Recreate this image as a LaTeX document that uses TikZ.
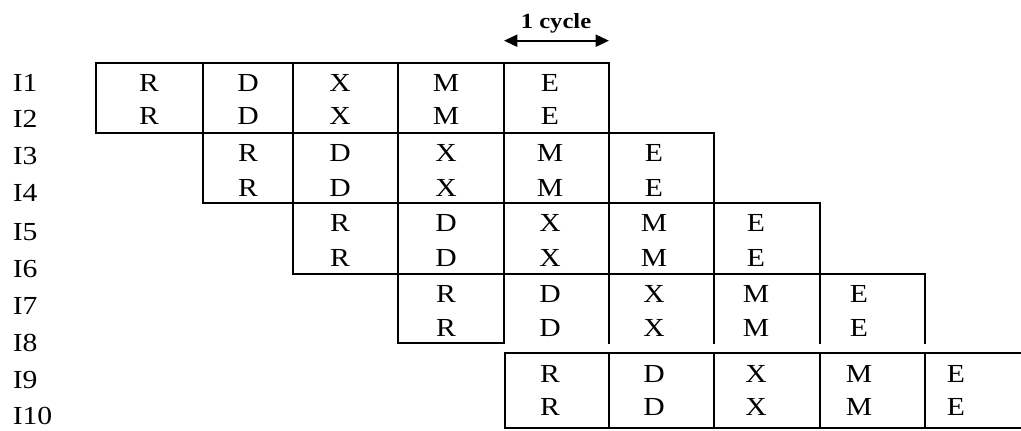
\documentclass[tikz,border=0pt]{standalone}
\usepackage{graphicx}
\usepackage{fontspec}
\setmainfont{Liberation Serif}
\usetikzlibrary{arrows.meta}
\newcommand\myhstretch[1]{\scalebox{1.14}[1]{#1}}
\begin{document}
\begin{tikzpicture}[x=0.75pt,y=-0.75pt,
  lbl/.style={font=\fontsize{19.5}{22}\selectfont, inner sep=0pt, anchor=base west},
  cell/.style={font=\fontsize{19.5}{22}\selectfont, inner sep=0pt, anchor=base},
  gridline/.style={line width=1.8pt, line cap=rect},
  cyclearrow/.style={line width=1.5pt, {Triangle[length=10pt,width=9pt]}-{Triangle[length=10pt,width=9pt]}}]
\useasboundingbox (0,0) rectangle (1021,431);
% row labels
\foreach \i/\b in {1/92,2/128,3/165,4/202,5/240,6/277,7/314,8/351,9/388,10/424}
  \node[lbl] (L\i) at (12.5,\b) {\myhstretch{I\i}};
% stage letters
\foreach \k/\ba/\bb in {0/92/125,1/162/196,2/232/266,3/302/336,4/382/415} {
  \foreach \L [count=\j from 0] in {R,D,X,M,E} {
    \pgfmathtruncatemacro\c{\k+\j}
    \pgfmathsetmacro\cx{{149,248,340,446,550,654,756,859,956}[\c]}
    \node[cell] (c\k\j a) at (\cx,\ba) {\myhstretch{\L}};
    \node[cell] (c\k\j b) at (\cx,\bb) {\myhstretch{\L}};
  }
}
% horizontal lines
\draw[gridline] (96,63) -- (609,63);
\draw[gridline] (96,133) -- (714,133);
\draw[gridline] (203,203) -- (820,203);
\draw[gridline] (293,274) -- (925,274);
\draw[gridline] (398,343) -- (504,343);
\draw[gridline] (505,353) -- (1021,353);
\draw[gridline] (505,428) -- (1021,428);
% vertical lines
\draw[gridline] (96,63) -- (96,133);
\draw[gridline] (203,63) -- (203,203);
\draw[gridline] (293,63) -- (293,274);
\draw[gridline] (398,63) -- (398,343);
\draw[gridline] (504,63) -- (504,343);
\draw[gridline] (609,63) -- (609,343);
\draw[gridline] (714,133) -- (714,343);
\draw[gridline] (820,203) -- (820,343);
\draw[gridline] (925,274) -- (925,343);
\foreach \x in {505,609,714,820,925}
  \draw[gridline] (\x,353) -- (\x,428);
% cycle arrow
\coordinate (cycA) at (504,40.7);
\coordinate (cycB) at (609,40.7);
\draw[cyclearrow] (cycA) -- (cycB);
\node[font=\bfseries\fontsize{16.2}{18}\selectfont, inner sep=0pt, anchor=base] (cyc) at (556,28.3) {\myhstretch{1 cycle}};
\end{tikzpicture}
\end{document}
